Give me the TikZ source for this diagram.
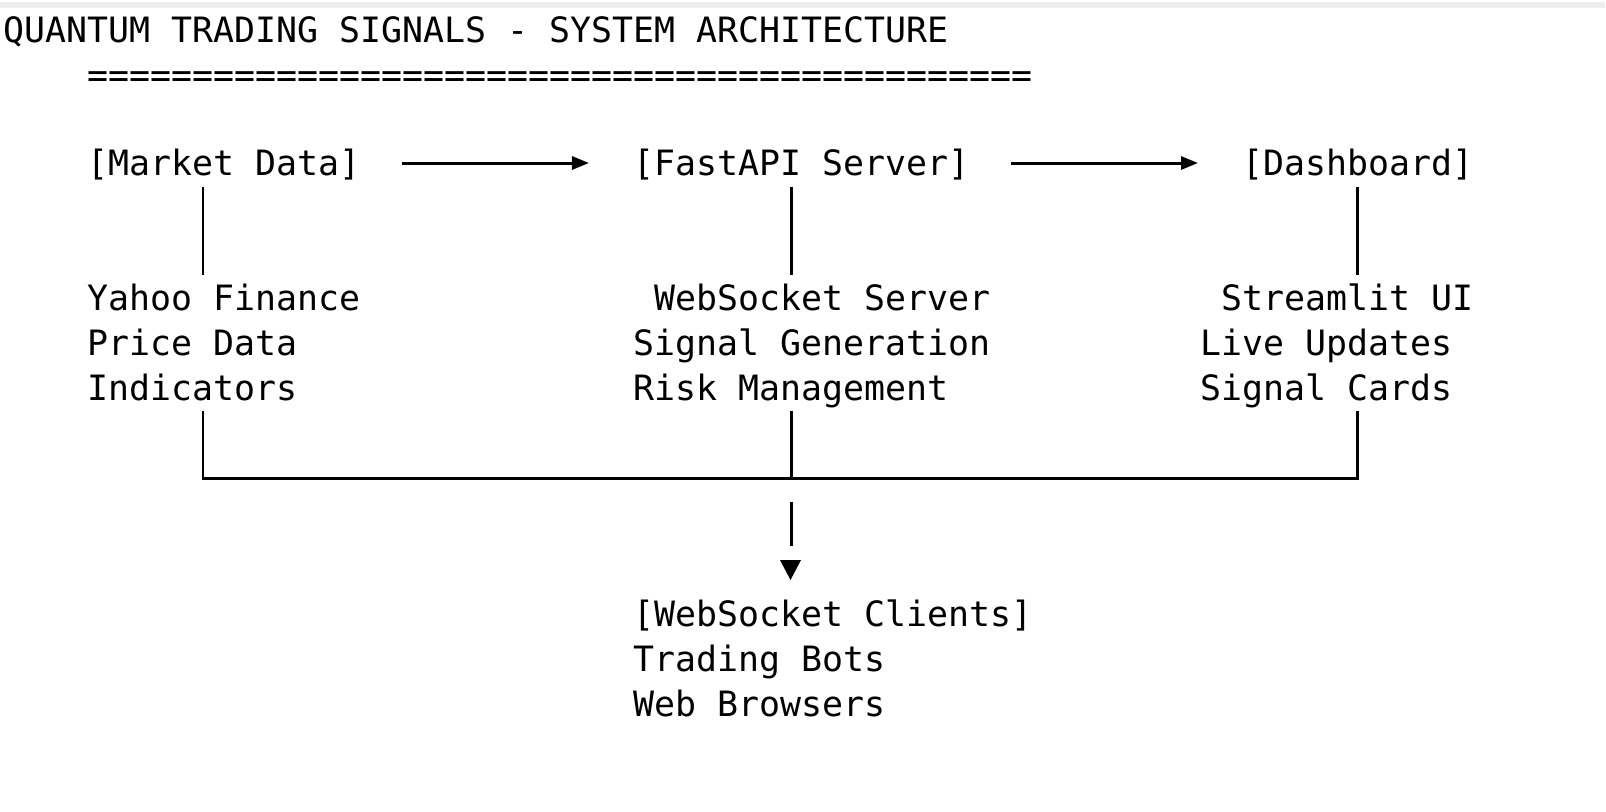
\documentclass[tikz,border=0pt]{standalone}
\usepackage{fontspec}
\setmonofont{DejaVu Sans Mono}
\usetikzlibrary{arrows.meta}

\tikzset{
  wire/.style={line width=0.85pt},
  flow/.style={line width=0.85pt,-{Triangle[length=0.17cm,width=0.13cm]}}
}

\begin{document}
\begin{tikzpicture}[x=0.01cm,y=-0.01cm]

      \useasboundingbox (0,0) rectangle (1606,811);
      \draw[line width=1.5pt,black!7] (0,5) -- (1605,5);

      \begin{scope}[every node/.style={anchor=base west,inner sep=0pt,
          font=\ttfamily\fontsize{9.92pt}{12pt}\selectfont}]
        \node (title)   at (3,42)    {QUANTUM TRADING SIGNALS - SYSTEM ARCHITECTURE};
        \node (rule)    at (87,87)   {=============================================};
        \node (market)  at (87,175)  {[Market Data]};
        \node (server)  at (633,175) {[FastAPI Server]};
        \node (dash)    at (1242,175) {[Dashboard]};
        \node (yahoo)   at (87,310)  {Yahoo Finance};
        \node (price)   at (87,355)  {Price Data};
        \node (ind)     at (87,400)  {Indicators};
        \node (ws)      at (654,310) {WebSocket Server};
        \node (sig)     at (633,355) {Signal Generation};
        \node (risk)    at (633,400) {Risk Management};
        \node (stream)  at (1221,310) {Streamlit UI};
        \node (live)    at (1200,355) {Live Updates};
        \node (cards)   at (1200,400) {Signal Cards};
        \node (clients) at (633,626) {[WebSocket Clients]};
        \node (bots)    at (633,671) {Trading Bots};
        \node (browse)  at (633,716) {Web Browsers};
      \end{scope}

      % ends of the connectors
      \coordinate (a1) at (402,163);
      \coordinate (a2) at (589,163);
      \coordinate (b1) at (1011,163);
      \coordinate (b2) at (1198,163);
      \coordinate (m1) at (203,187);
      \coordinate (m2) at (203,275);
      \coordinate (s1) at (791,187);
      \coordinate (s2) at (791,275);
      \coordinate (d1) at (1357,187);
      \coordinate (d2) at (1357,275);
      \coordinate (m3) at (203,411);
      \coordinate (s3) at (791,411);
      \coordinate (d3) at (1357,411);
      \coordinate (m4) at (203,478);
      \coordinate (s4) at (791,478);
      \coordinate (d4) at (1357,478);
      \coordinate (t1) at (791,502);
      \coordinate (t2) at (791,546);

      \draw[flow] (a1) -- (a2);
      \draw[flow] (b1) -- (b2);

      \begin{scope}[every path/.style={wire}]
        \draw (m1) -- (m2);
        \draw (s1) -- (s2);
        \draw (d1) -- (d2);
        \draw (m3) -- (m4) -- (d4) -- (d3);
        \draw (s3) -- (s4);
        \draw (t1) -- (t2);
      \end{scope}

      \fill (780,560) -- (801,560) -- (790.5,580) -- cycle;

    \end{tikzpicture}
\end{document}
